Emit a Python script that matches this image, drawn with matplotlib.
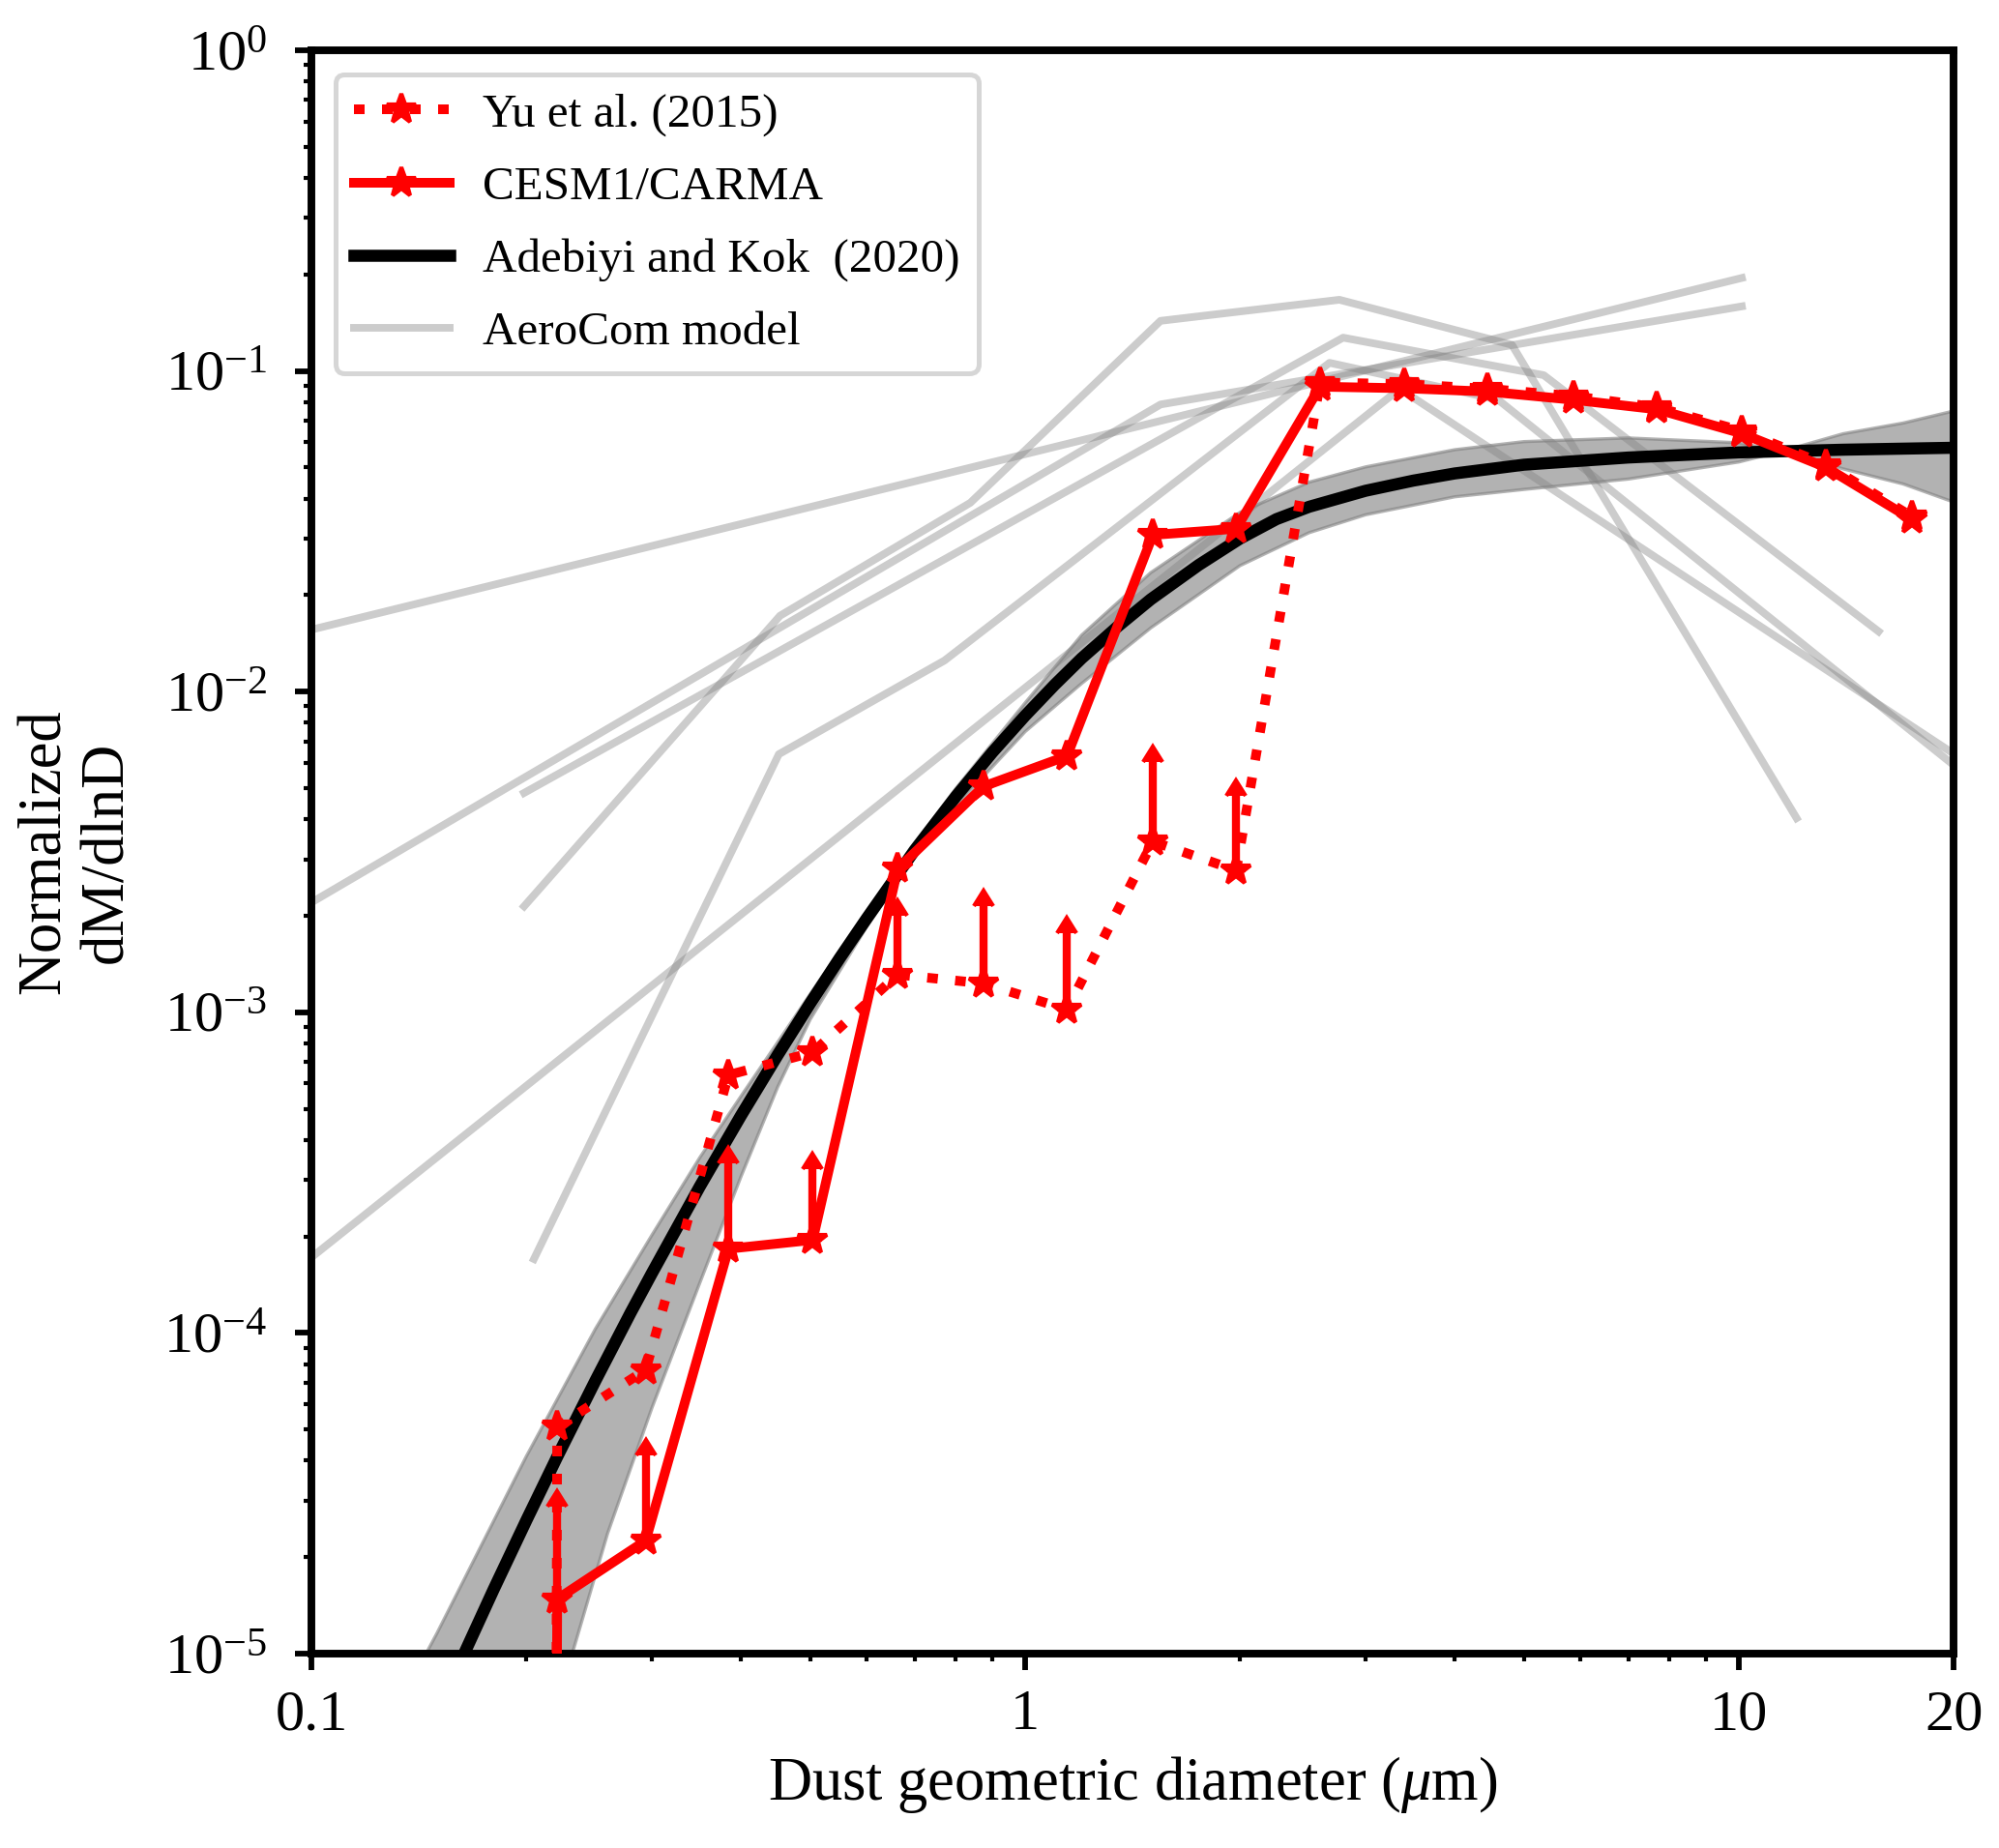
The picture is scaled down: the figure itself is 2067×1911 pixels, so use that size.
import numpy as np
import matplotlib
matplotlib.use('Agg')
import matplotlib.pyplot as plt
from matplotlib.ticker import NullFormatter

plt.rcParams['font.family'] = ['Liberation Serif', 'DejaVu Serif']
plt.rcParams['mathtext.fontset'] = 'custom'
plt.rcParams['mathtext.rm'] = 'Liberation Serif'
plt.rcParams['mathtext.it'] = 'Liberation Serif:italic'
plt.rcParams['mathtext.bf'] = 'Liberation Serif:bold'

# bin diameters (um), first entry is the hidden point below the axis
diam = [0.219, 0.221, 0.294, 0.384, 0.504, 0.663, 0.874, 1.145, 1.51, 1.976,
        2.59, 3.40, 4.45, 5.86, 7.68, 10.1, 13.26, 17.46]
carma = [1e-7, 1.48e-5, 2.25e-5, 1.83e-4, 1.95e-4, 2.8e-3, 5.06e-3, 6.3e-3,
         3.08e-2, 3.22e-2, 0.0893, 0.0883, 0.0862, 0.0813, 0.0759, 0.0638, 0.050, 0.0345]
yu2015 = [1e-7, 5.1e-5, 7.67e-5, 6.37e-4, 7.5e-4, 1.31e-3, 1.23e-3, 1.02e-3,
          3.41e-3, 2.77e-3, 0.092, 0.091, 0.088, 0.0835, 0.077, 0.065, 0.051, 0.0352]

# upper-limit arrows
carma_lim_x = [0.221, 0.294, 0.384, 0.504]
carma_lim_lo = [1.48e-5, 2.25e-5, 1.83e-4, 1.95e-4]
carma_lim_hi = [2.87e-5, 4.15e-5, 3.38e-4, 3.25e-4]
yu_lim_x = [0.663, 0.874, 1.145, 1.51, 1.976]
yu_lim_lo = [1.31e-3, 1.23e-3, 1.02e-3, 3.41e-3, 2.77e-3]
yu_lim_hi = [2.0e-3, 2.15e-3, 1.77e-3, 6.02e-3, 4.72e-3]

# Adebiyi and Kok (2020): median curve and range
ak_x = [0.15, 0.1637, 0.18, 0.2, 0.221, 0.25, 0.28, 0.3, 0.35, 0.4, 0.45, 0.5, 0.55,
        0.6, 0.7, 0.8, 0.9, 1.0, 1.1, 1.2, 1.35, 1.5, 1.75, 2.0, 2.25, 2.5, 3.0,
        3.5, 4.0, 5.0, 7.0, 10, 14, 20]
ak_y = [6.5e-6, 1.0e-5, 1.585e-5, 2.6e-5, 4.11e-5, 7.1e-5, 1.155e-4, 1.536e-4,
        2.86e-4, 4.77e-4, 7.35e-4, 1.067e-3, 1.477e-3, 1.963e-3, 3.2e-3, 4.71e-3,
        6.47e-3, 8.41e-3, 1.05e-2, 1.27e-2, 1.6e-2, 1.94e-2, 2.48e-2, 3.0e-2,
        3.45e-2, 3.77e-2, 4.23e-2, 4.55e-2, 4.79e-2, 5.1e-2, 5.37e-2, 5.57e-2,
        5.68e-2, 5.76e-2]
ak_up_x = [0.13, 0.15, 0.2, 0.25, 0.3, 0.35, 0.4, 0.45, 0.5, 0.6, 0.7, 0.8, 1.0,
           1.2, 1.5, 2.0, 2.5, 3.0, 4.0, 5.0, 7.0, 10, 11.5, 14, 17, 20]
ak_up_y = [6.4e-6, 1.16e-5, 4.12e-5, 1.03e-4, 2.02e-4, 3.52e-4, 5.48e-4, 8.06e-4,
           1.14e-3, 2.06e-3, 3.35e-3, 4.99e-3, 9.22e-3, 1.5e-2, 2.35e-2, 3.62e-2,
           4.5e-2, 5.02e-2, 5.68e-2, 6.02e-2, 6.18e-2, 5.97e-2, 5.62e-2, 6.37e-2,
           6.88e-2, 7.5e-2]
ak_lo_x = [0.21, 0.232, 0.26, 0.3, 0.35, 0.4, 0.45, 0.5, 0.6, 0.7, 0.8, 1.0, 1.2,
           1.5, 2.0, 2.5, 3.0, 4.0, 5.0, 7.0, 10, 11.5, 14, 17, 20]
ak_lo_y = [4.1e-6, 1.0e-5, 2.37e-5, 5.84e-5, 1.43e-4, 3.08e-4, 5.84e-4, 9.51e-4,
           1.85e-3, 3.06e-3, 4.4e-3, 7.5e-3, 1.06e-2, 1.58e-2, 2.47e-2, 3.13e-2,
           3.56e-2, 4.05e-2, 4.27e-2, 4.6e-2, 5.2e-2, 5.62e-2, 4.95e-2, 4.44e-2, 3.9e-2]

# AeroCom models
aerocom = [
    ([0.1, 10.1], [0.0156, 0.195]),
    ([0.1, 1.548, 10.1], [2.2e-3, 0.0786, 0.159]),
    ([0.1, 3.35, 20], [1.72e-4, 0.088, 6.4e-3]),
    ([0.1986, 0.4535, 0.838, 1.548, 2.757, 4.81, 12.05],
     [2.14e-3, 0.01724, 0.0388, 0.1433, 0.1667, 0.1206, 4.03e-3]),
    ([0.1986, 2.79, 5.33, 15.7], [4.83e-3, 0.127, 0.097, 0.0154]),
    ([0.205, 0.4518, 0.771, 2.67, 4.6, 20], [1.7e-4, 6.38e-3, 0.0125, 0.106, 0.0813, 5.9e-3]),
]

y_ticks = [1e-5, 1e-4, 1e-3, 1e-2, 1e-1, 1]
y_tick_labels = [r'$\mathdefault{10^{−5}}$', r'$\mathdefault{10^{−4}}$',
                 r'$\mathdefault{10^{−3}}$', r'$\mathdefault{10^{−2}}$',
                 r'$\mathdefault{10^{−1}}$', r'$\mathdefault{10^{0}}$']
x_ticks = [0.1, 1, 10, 20]
x_tick_labels = ['0.1', '1', '10', '20']

fig = plt.figure(figsize=(6.89, 6.37), dpi=300)
ax = fig.add_axes([0.1558, 0.1052, 0.8215, 0.8676])

for i, (xs, ys) in enumerate(aerocom):
    ax.plot(xs, ys, color='gray', alpha=0.4, lw=1.9, zorder=2)

ax.fill(ak_up_x + ak_lo_x[::-1], ak_up_y + ak_lo_y[::-1],
        color='gray', alpha=0.6, lw=0.8, zorder=1)
ak_line, = ax.plot(ak_x, ak_y, color='black', lw=3.0, zorder=3)

yu_line, = ax.plot(diam, yu2015, color='red', lw=2.4, ls=(0, (1.1, 1.8)),
                   marker='*', ms=7.5, zorder=4)
carma_line, = ax.plot(diam, carma, color='red', lw=2.4, marker='*', ms=7.5, zorder=5)

for lx, lo, hi in [(carma_lim_x, carma_lim_lo, carma_lim_hi),
                   (yu_lim_x, yu_lim_lo, yu_lim_hi)]:
    eb = ax.errorbar(lx, lo, yerr=[np.zeros(len(lx)), np.array(hi) - np.array(lo)],
                     lolims=True, fmt='none', ecolor='red', elinewidth=2.0,
                     capsize=2.5, zorder=5)
    for cap in eb[1]:
        cap.set_color('red')
        cap.set_markerfacecolor('red')
        cap.set_markeredgecolor('red')

ax.set_xscale('log')
ax.set_yscale('log')
ax.set_xlim(0.1, 20)
ax.set_ylim(1e-5, 1)
ax.set_xticks(x_ticks)
ax.set_xticklabels(x_tick_labels)
ax.set_yticks(y_ticks)
ax.set_yticklabels(y_tick_labels)
ax.xaxis.set_minor_formatter(NullFormatter())
ax.yaxis.set_minor_formatter(NullFormatter())
ax.tick_params(which='major', length=4, width=1.4, labelsize=14.5)
ax.tick_params(which='minor', length=2, width=1.0)
ax.tick_params(axis='x', which='major', pad=5)
ax.tick_params(axis='y', which='major', pad=7)
for sp in ax.spines.values():
    sp.set_linewidth(1.9)

ax.set_xlabel(r'Dust geometric diameter ($\mu$m)', fontsize=15, labelpad=3)
ax.set_ylabel('Normalized\ndM/dlnD', fontsize=15, linespacing=1.15)
ax.yaxis.set_label_coords(-0.107, 0.5)

aero_handle = plt.Line2D([], [], color='gray', alpha=0.4, lw=1.9)
handles = [yu_line, carma_line, ak_line, aero_handle]
labels = ['Yu et al. (2015)', 'CESM1/CARMA', 'Adebiyi and Kok  (2020)', 'AeroCom model']
leg = ax.legend(handles, labels, loc='upper left', fontsize=11.8, handlelength=2.0,
                handletextpad=0.7, labelspacing=0.62, borderpad=0.4, borderaxespad=0.5)
leg.get_frame().set_linewidth(1.2)

fig.savefig('out.png', dpi=300)
plt.close(fig)
